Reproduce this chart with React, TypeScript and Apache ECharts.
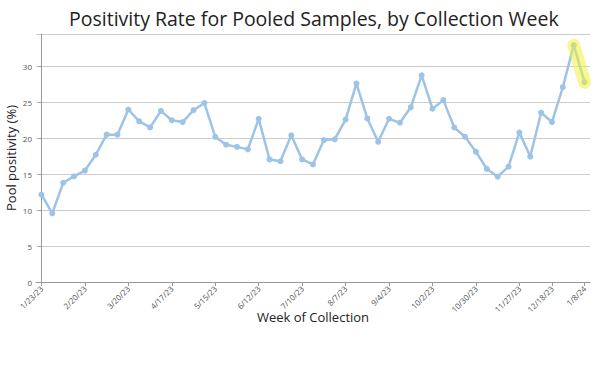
import React, { useEffect, useRef } from "react";
import * as echarts from "echarts";

const weeks = [
  "1/23/23", "1/30/23", "2/6/23", "2/13/23", "2/20/23", "2/27/23", "3/6/23", "3/13/23",
  "3/20/23", "3/27/23", "4/3/23", "4/10/23", "4/17/23", "4/24/23", "5/1/23", "5/8/23",
  "5/15/23", "5/22/23", "5/29/23", "6/5/23", "6/12/23", "6/19/23", "6/26/23", "7/3/23",
  "7/10/23", "7/17/23", "7/24/23", "7/31/23", "8/7/23", "8/14/23", "8/21/23", "8/28/23",
  "9/4/23", "9/11/23", "9/18/23", "9/25/23", "10/2/23", "10/9/23", "10/16/23", "10/23/23",
  "10/30/23", "11/6/23", "11/13/23", "11/20/23", "11/27/23", "12/4/23", "12/11/23", "12/18/23",
  "12/25/23", "1/1/24", "1/8/24",
];

const positivity = [
  12.15, 9.55, 13.8, 14.7, 15.5, 17.7, 20.5, 20.5, 24.0, 22.35, 21.5, 23.8, 22.5, 22.25,
  23.9, 24.9, 20.2, 19.1, 18.8, 18.45, 22.7, 17.05, 16.8, 20.4, 17.05, 16.35, 19.75, 19.85,
  22.6, 27.6, 22.75, 19.5, 22.7, 22.15, 24.3, 28.75, 24.1, 25.3, 21.5, 20.2, 18.1, 15.75,
  14.65, 16.05, 20.8, 17.45, 23.55, 22.25, 27.1, 32.95, 27.8,
];

const labelledWeeks = ["1/23/23", "2/20/23", "3/20/23", "4/17/23", "5/15/23", "6/12/23", "7/10/23",
  "8/7/23", "9/4/23", "10/2/23", "10/30/23", "11/27/23", "12/18/23", "1/8/24"];

const highlightedWeeks = ["1/1/24", "1/8/24"];

export default function App() {
  const ref = useRef<HTMLDivElement>(null);
  useEffect(() => {
    if (!ref.current) return;
    document.body.style.margin = "0";
    const chart = echarts.init(ref.current, null, { renderer: "svg" });
    const labelIdx = labelledWeeks.map((w) => weeks.indexOf(w));
    const mainData = positivity.map((v, i) => [i, v]);
    const hiData = highlightedWeeks.map((w) => {
      const i = weeks.indexOf(w);
      return [i, positivity[i]];
    });
    const font = "'Open Sans', sans-serif";
    chart.setOption({
      animation: false,
      title: {
        text: "Positivity Rate for Pooled Samples, by Collection Week",
        left: 64,
        top: 3,
        textStyle: { fontFamily: font, fontSize: 19.5, fontWeight: "normal", color: "#222" },
      },
      grid: { left: 36, right: 10, top: 34, bottom: 88, containLabel: false, outerBoundsMode: "none" },
      xAxis: {
        type: "value",
        min: -0.5,
        max: weeks.length - 0.5,
        name: "Week of Collection",
        nameLocation: "middle",
        nameGap: 28,
        nameMoveOverlap: false,
        nameTextStyle: { fontFamily: font, fontSize: 13, color: "#222" },
        axisLine: { show: true, lineStyle: { color: "#999" } },
        axisTick: { show: true, customValues: labelIdx, length: 4, lineStyle: { color: "#999" } },
        splitLine: { show: false },
        axisLabel: {
          customValues: labelIdx,
          rotate: 45,
          fontFamily: font,
          fontSize: 8,
          color: "#555",
          margin: 5,
          formatter: (v: number) => weeks[Math.round(v)] ?? "",
        },
      },
      yAxis: {
        type: "value",
        min: 0,
        max: 34.5,
        interval: 5,
        name: "Pool positivity (%)",
        nameLocation: "middle",
        nameGap: 19,
        nameMoveOverlap: false,
        nameTextStyle: { fontFamily: font, fontSize: 13, color: "#222" },
        axisLine: { show: true, lineStyle: { color: "#999" } },
        axisTick: { show: true, length: 3, lineStyle: { color: "#999" } },
        splitLine: { show: true, lineStyle: { color: "#ccc", width: 1 } },
        axisLabel: {
          fontFamily: font,
          fontSize: 8,
          color: "#555",
          margin: 4,
          showMaxLabel: false,
        },
      },
      series: [
        {
          type: "line",
          data: mainData,
          symbol: "circle",
          symbolSize: 6,
          itemStyle: { color: "#9DC3E6" },
          lineStyle: { color: "#9DC3E6", width: 2.5 },
          z: 2,
        },
        {
          type: "line",
          data: hiData,
          symbol: "none",
          lineStyle: { color: "rgba(240, 240, 60, 0.55)", width: 13, cap: "round" },
          z: 3,
          silent: true,
        },
      ],
    });
    return () => chart.dispose();
  }, []);
  return <div ref={ref} style={{ width: 600, height: 370 }} />;
}
